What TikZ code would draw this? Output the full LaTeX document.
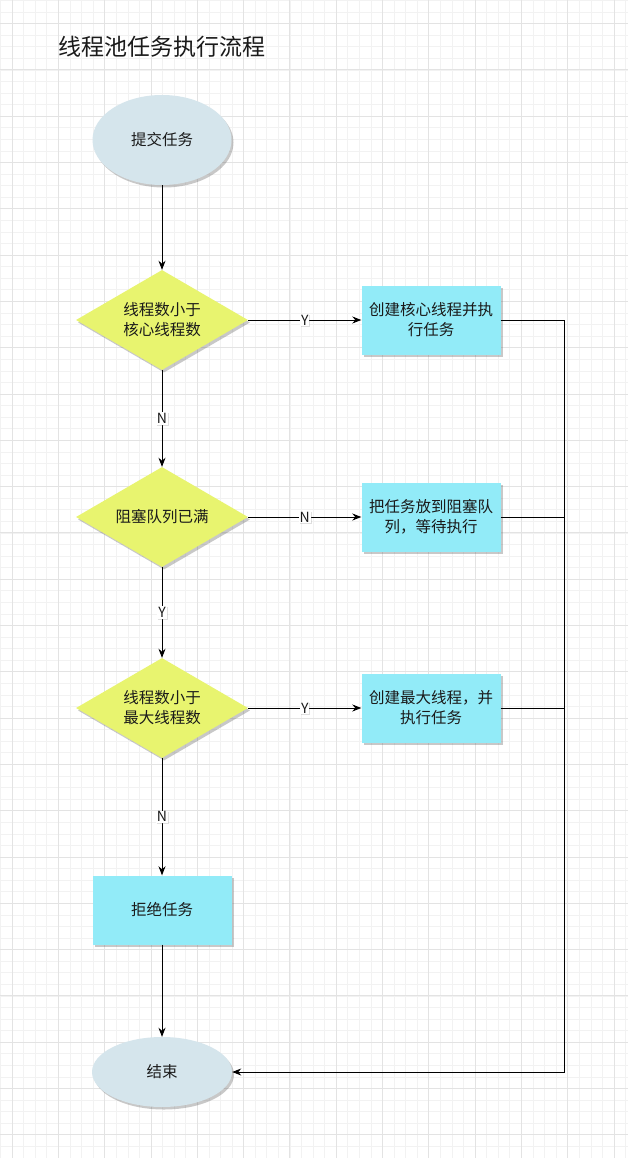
\documentclass[tikz,border=0pt]{standalone}
\usepackage{fontspec}
\setmainfont{Noto Sans CJK SC}
\usetikzlibrary{shapes.geometric,arrows.meta,shadows}
\definecolor{ellfill}{HTML}{D5E5EC}
\definecolor{diafill}{HTML}{E8F46F}
\definecolor{boxfill}{HTML}{92EBF8}
\definecolor{txt}{HTML}{1A1A1A}
\tikzset{
  gridminor/.style={draw=black!5, line width=0.5pt},
  gridmajor/.style={draw=black!11, line width=0.7pt},
  shad/.style={drop shadow={shadow xshift=2pt, shadow yshift=-2.5pt, opacity=0.3, fill=black!70}},
  nodetext/.style={font=\fontsize{15.5}{20}\selectfont, text=txt, align=center},
  startend/.style={ellipse, fill=ellfill, draw=none, inner sep=0pt, shad, nodetext},
  decision/.style={diamond, aspect=1.72, fill=diafill, draw=none, inner sep=0pt, minimum width=172, minimum height=100, shad, nodetext},
  process/.style={rectangle, fill=boxfill, draw=none, inner sep=0pt, minimum width=139, minimum height=69, text width=132, shad, nodetext},
  arr/.style={draw=black, line width=0.9pt, -{Stealth[length=9pt,width=7pt]}},
  conn/.style={draw=black, line width=0.9pt},
  lbl/.style={fill=white, inner sep=1pt, font=\fontsize{14}{14}\selectfont, text=txt, drop shadow={shadow xshift=1pt, shadow yshift=-1pt, opacity=0.25}},
}
\begin{document}
\begin{tikzpicture}[x=1pt,y=-1pt]
\useasboundingbox (0,0) rectangle (628,1158);
\fill[white] (0,0) rectangle (628,1158);
% grid
\foreach \i in {0,...,54} { \draw[gridminor] ({0.425+\i*11.575},0) -- ({0.425+\i*11.575},1158); }
\foreach \j in {0,...,100} { \draw[gridminor] (0,{0.35+\j*11.575}) -- (628,{0.35+\j*11.575}); }
\foreach \i in {0,...,13} { \draw[gridmajor] ({12+\i*46.3},0) -- ({12+\i*46.3},1158); }
\foreach \j in {0,...,24} { \draw[gridmajor] (0,{23.5+\j*46.3}) -- (628,{23.5+\j*46.3}); }
% title
\node[font=\fontsize{23}{23}\selectfont, text=txt] (title) at (162,47) {线程池任务执行流程};
% nodes
\node[startend, minimum width=139, minimum height=90] (start) at (162,140) {提交任务};
\node[decision] (d1) at (162,320) {线程数小于\\核心线程数};
\node[process] (r1) at (431,320) {创建核心线程并执\\行任务};
\node[decision] (d2) at (162,517) {阻塞队列已满};
\node[process] (r2) at (431,517) {把任务放到阻塞队\\列，等待执行};
\node[decision] (d3) at (162,708) {线程数小于\\最大线程数};
\node[process] (r3) at (431,708) {创建最大线程，并\\执行任务};
\node[process] (reject) at (162,910) {拒绝任务};
\node[startend, minimum width=140, minimum height=70] (end) at (162,1072) {结束};
\coordinate (bus) at (564,320);
% connectors
\draw[arr] (start) -- (d1);
\draw[arr] (d1) -- node[lbl]{Y} (r1);
\draw[arr] (d1) -- node[lbl]{N} (d2);
\draw[arr] (d2) -- node[lbl]{N} (r2);
\draw[arr] (d2) -- node[lbl]{Y} (d3);
\draw[arr] (d3) -- node[lbl]{Y} (r3);
\draw[arr] (d3) -- node[lbl]{N} (reject);
\draw[arr] (reject) -- (end);
\draw[arr] (r1.east) -- (bus) |- (end.east);
\draw[conn] (r2.east) -- (r2.east -| bus);
\draw[conn] (r3.east) -- (r3.east -| bus);
\end{tikzpicture}
\end{document}
